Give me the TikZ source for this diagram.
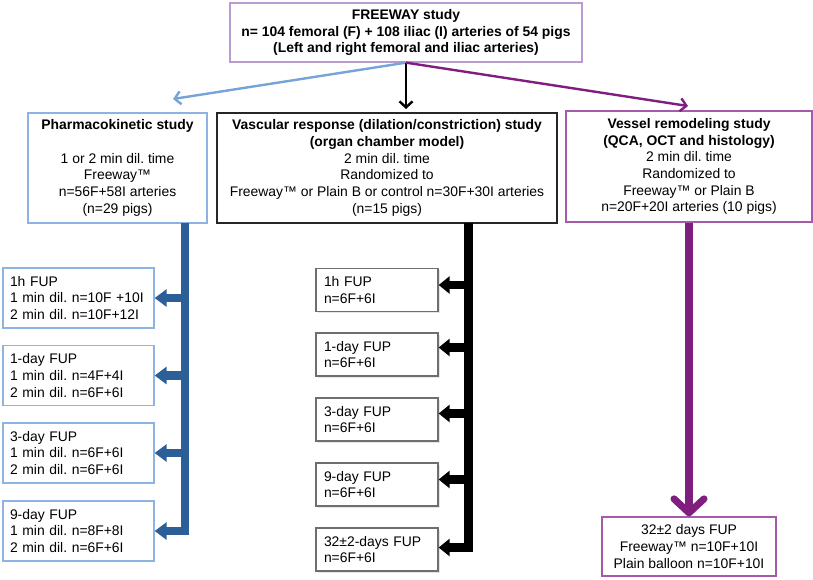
\documentclass[tikz,border=0pt]{standalone}
\usepackage{fontspec}
\setmainfont{Liberation Sans}
\usetikzlibrary{arrows.meta,shadows}
\definecolor{lblue}{RGB}{118,163,216}
\definecolor{boxblue}{RGB}{141,179,226}
\definecolor{dblue}{RGB}{44,94,152}
\definecolor{purp}{RGB}{128,30,128}
\definecolor{boxpurp}{RGB}{165,90,170}
\definecolor{toppurp}{RGB}{185,155,210}
\definecolor{boxgray}{RGB}{110,110,110}
\frenchspacing
\begin{document}
\begin{tikzpicture}[x=1pt,y=-1pt,
  font=\fontsize{13.9}{16.7}\selectfont\frenchspacing,
  box/.style={draw, line width=1.3pt, inner sep=0pt, align=center, fill=white},
  bluebox/.style={box, draw=boxblue},
  leftbox/.style={box, draw=boxblue, minimum width=151pt, minimum height=60pt,
    text width=137pt, align=left},
  midbox/.style={box, draw=boxgray, minimum width=122pt, minimum height=43pt,
    text width=106pt, align=left,
    drop shadow={shadow xshift=1.5pt, shadow yshift=-1.5pt, opacity=0.2}},
  topline/.style={line width=2.4pt, -{Straight Barb[length=6pt,width=13pt]}},
  bluebar/.style={dblue, line width=8.5pt, line join=miter, -{Triangle[length=12pt,width=17pt]}},
  blackbar/.style={black, line width=8.5pt, line join=miter, -{Triangle[length=11pt,width=17pt]}},
  purpbar/.style={purp, line width=7.5pt, -{Straight Barb[length=14pt,width=30pt,line width=7pt,round]}}
]
\useasboundingbox (0,0) rectangle (813,579);

% top box
\node[box, draw=toppurp, minimum width=352pt, minimum height=59pt] (top) at (406,32.5)
  {\textbf{FREEWAY study}\\ \textbf{n= 104 femoral (F) + 108 iliac (I) arteries of 54 pigs}\\ \textbf{(Left and right femoral and iliac arteries)}};

% second row
\node[bluebox, minimum width=179pt, minimum height=110pt] (pk) at (117.5,168)
  {\textbf{Pharmacokinetic study}\\ ~\\ 1 or 2 min dil. time\\ Freeway™\\ n=56F+58I arteries\\ (n=29 pigs)};
\node[box, draw=black!85, minimum width=340pt, minimum height=110pt] (vr) at (387,168)
  {\textbf{Vascular response (dilation/constriction) study}\\ \textbf{(organ chamber model)}\\ 2 min dil. time\\ Randomized to\\ Freeway™ or Plain B or control n=30F+30I arteries\\ (n=15 pigs)};
\node[box, draw=boxpurp, minimum width=246pt, minimum height=111pt] (rm) at (689,166.5)
  {\textbf{Vessel remodeling study}\\ \textbf{(QCA, OCT and histology)}\\ 2 min dil. time\\ Randomized to\\ Freeway™ or Plain B\\ n=20F+20I arteries (10 pigs)};

% top connectors
\coordinate (pkin) at (173,99);
\coordinate (vrin) at (406,109);
\coordinate (rmin) at (688,106);
\draw[topline, lblue] (top.south) -- (pkin);
\draw[topline, black] (top.south) -- (vrin);
\draw[topline, purp] (top.south) -- (rmin);

% left column
\node[leftbox] (l1) at (78.5,298) {1h FUP\\ 1 min dil. n=10F +10I\\ 2 min dil. n=10F+12I};
\node[leftbox] (l2) at (78.5,375.5) {1-day FUP\\ 1 min dil. n=4F+4I\\ 2 min dil. n=6F+6I};
\node[leftbox] (l3) at (78.5,453) {3-day FUP\\ 1 min dil. n=6F+6I\\ 2 min dil. n=6F+6I};
\node[leftbox] (l4) at (78.5,531) {9-day FUP\\ 1 min dil. n=8F+8I\\ 2 min dil. n=6F+6I};

\coordinate (pkbar) at (185,223);
\draw[bluebar] (pkbar) |- (l4.east);
\draw[bluebar] (pkbar |- l1.east) -- (l1.east);
\draw[bluebar] (pkbar |- l2.east) -- (l2.east);
\draw[bluebar] (pkbar |- l3.east) -- (l3.east);

% middle column
\node[midbox] (m1) at (377,290) {1h FUP\\ n=6F+6I};
\node[midbox] (m2) at (377,354.5) {1-day FUP\\ n=6F+6I};
\node[midbox] (m3) at (377,419.5) {3-day FUP\\ n=6F+6I};
\node[midbox] (m4) at (377,484.5) {9-day FUP\\ n=6F+6I};
\node[midbox] (m5) at (377,549.5) {32±2-days FUP\\ n=6F+6I};

\coordinate (vrbar) at (468.5,223);
\draw[blackbar] (vrbar) |- ([yshift=2pt]m5.east);
\draw[blackbar] ([yshift=5pt]vrbar |- m1.east) -- ([yshift=5pt]m1.east);
\draw[blackbar] ([yshift=7pt]vrbar |- m2.east) -- ([yshift=7pt]m2.east);
\draw[blackbar] ([yshift=6pt]vrbar |- m3.east) -- ([yshift=6pt]m3.east);
\draw[blackbar] ([yshift=5pt]vrbar |- m4.east) -- ([yshift=5pt]m4.east);

% right column
\node[box, draw=boxpurp, minimum width=174pt, minimum height=59pt] (bt) at (689,546.5)
  {32±2 days FUP\\ Freeway™ n=10F+10I\\ Plain balloon n=10F+10I};
\draw[purpbar] (rm.south) -- (bt.north);
\end{tikzpicture}
\end{document}
